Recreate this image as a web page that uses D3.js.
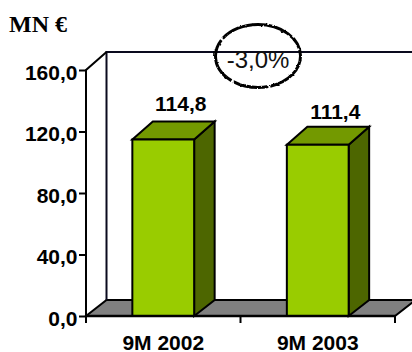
<!DOCTYPE html>
<html>
<head>
<meta charset="utf-8">
<script src="https://cdn.jsdelivr.net/npm/d3@7"></script>
<style>
  html, body { margin: 0; padding: 0; background: #fff; }
  svg { display: block; }
  text { font-family: "Liberation Sans", Arial, sans-serif; fill: #000; }
</style>
</head>
<body>
<svg id="chart" width="412" height="352">
  <defs>
    <filter id="rough" x="-10%" y="-10%" width="120%" height="120%">
      <feTurbulence type="fractalNoise" baseFrequency="0.25" numOctaves="2" seed="4"/>
      <feDisplacementMap in="SourceGraphic" scale="2.5" xChannelSelector="R" yChannelSelector="G"/>
    </filter>
  </defs>
</svg>
<script>
const categories = ["9M 2002", "9M 2003"];
const values = [114.8, 111.4];
const yTicks = [0, 40, 80, 120, 160];
const unitLabel = "MN €";
const changeLabel = "-3,0%";

const commaFormat = v => d3.format(".1f")(v).replace(".", ",");

const svg = d3.select("#chart");
const x = d3.scaleBand().domain(categories).range([86, 395]).paddingInner(0.6).paddingOuter(0.3);
const y = d3.scaleLinear().domain([0, 160]).range([316, 70]);

// Oblique depth of the 3D box: floor and ceiling recede slightly differently
const dx = 20.5, floorDy = 16, topDy = 18;
const y0 = y(0), yMax = y(160), xL = 86, xR = 395;
const line = d3.line();

// Floor, clipped by the right edge of the page
svg.append("path")
  .attr("d", line([[xL, y0], [xL + dx, y0 - floorDy], [xR + dx, y0 - floorDy], [xR, y0]]) + "Z")
  .attr("fill", "#808080").attr("stroke", "#000").attr("stroke-width", 2);

// Back wall edges and side wall
svg.append("path")
  .attr("d", line([[xL + dx, y0 - floorDy], [xL + dx, yMax - topDy], [412, yMax - topDy]]))
  .attr("fill", "none").attr("stroke", "#0a0a1e").attr("stroke-width", 2);
svg.append("path")
  .attr("d", line([[xL, y0], [xL, yMax], [xL + dx, yMax - topDy]]))
  .attr("fill", "none").attr("stroke", "#000").attr("stroke-width", 2);

// Bars: front, top and side faces
const bars = svg.selectAll("g.bar").data(categories.map((c, i) => ({ c, v: values[i] })))
  .join("g").attr("class", "bar");
const faces = [
  { fill: "#4d6600", pts: (l, r, t) => [[r, t], [r + dx, t - topDy], [r + dx, y0 - floorDy], [r, y0]] },
  { fill: "#739900", pts: (l, r, t) => [[l, t], [l + dx, t - topDy], [r + dx, t - topDy], [r, t]] },
  { fill: "#99cc00", pts: (l, r, t) => [[l, t], [r, t], [r, y0], [l, y0]] }
];
faces.forEach(f => {
  bars.append("path")
    .attr("d", d => line(f.pts(x(d.c), x(d.c) + x.bandwidth(), y(d.v))) + "Z")
    .attr("fill", f.fill).attr("stroke", "#000").attr("stroke-width", 2).attr("stroke-linejoin", "miter");
});

// Value labels float above the top face
const labelLift = [28.5, 26];
bars.append("text")
  .attr("x", d => x(d.c) + x.bandwidth() / 2 + 17.5)
  .attr("y", (d, i) => y(d.v) - labelLift[i])
  .attr("text-anchor", "middle")
  .attr("font-size", 21).attr("font-weight", 700)
  .text(d => commaFormat(d.v));

// Value axis
const yAxis = svg.append("g").attr("transform", `translate(${xL},0)`)
  .call(d3.axisLeft(y).tickValues(yTicks).tickFormat(commaFormat).tickSize(7).tickPadding(1.5));
yAxis.select(".domain").remove();
yAxis.selectAll("line").attr("stroke", "#000").attr("stroke-width", 2);
yAxis.selectAll("text")
  .attr("font-size", 21).attr("font-weight", 700).attr("dy", 9)
  .attr("font-family", '"Liberation Sans", Arial, sans-serif');

// Category axis: baseline, boundary ticks and centred labels
const boundaries = d3.range(categories.length + 1).map(i => xL + i * (xR - xL) / categories.length);
svg.append("path").attr("d", line([[xL, y0], [xR, y0]])).attr("stroke", "#000").attr("stroke-width", 2.4);
svg.selectAll("line.xtick").data(boundaries).join("line").attr("class", "xtick")
  .attr("x1", d => d).attr("x2", d => d).attr("y1", y0).attr("y2", y0 + 7)
  .attr("stroke", "#000").attr("stroke-width", 2);
svg.selectAll("text.xlabel").data(categories).join("text").attr("class", "xlabel")
  .attr("x", d => x(d) + x.bandwidth() / 2)
  .attr("y", 349.5)
  .attr("text-anchor", "middle")
  .attr("font-size", 21).attr("font-weight", 700)
  .text(d => d);

// Unit caption
svg.append("text").attr("x", 9).attr("y", 32)
  .attr("font-size", 24).attr("font-weight", 700)
  .style("font-family", '"Liberation Serif", "Times New Roman", serif')
  .text(unitLabel);

// Hand-drawn style ring with the year-on-year change
svg.append("ellipse")
  .attr("cx", 258).attr("cy", 56).attr("rx", 42.5).attr("ry", 31.5)
  .attr("fill", "none").attr("stroke", "#000").attr("stroke-width", 3)
  .attr("stroke-dasharray", "46 2 36 2 48 2 97 0")
  .attr("filter", "url(#rough)");
svg.append("text").attr("x", 258).attr("y", 68)
  .attr("text-anchor", "middle").attr("font-size", 24)
  .style("fill", "#111")
  .text(changeLabel);
</script>
</body>
</html>
